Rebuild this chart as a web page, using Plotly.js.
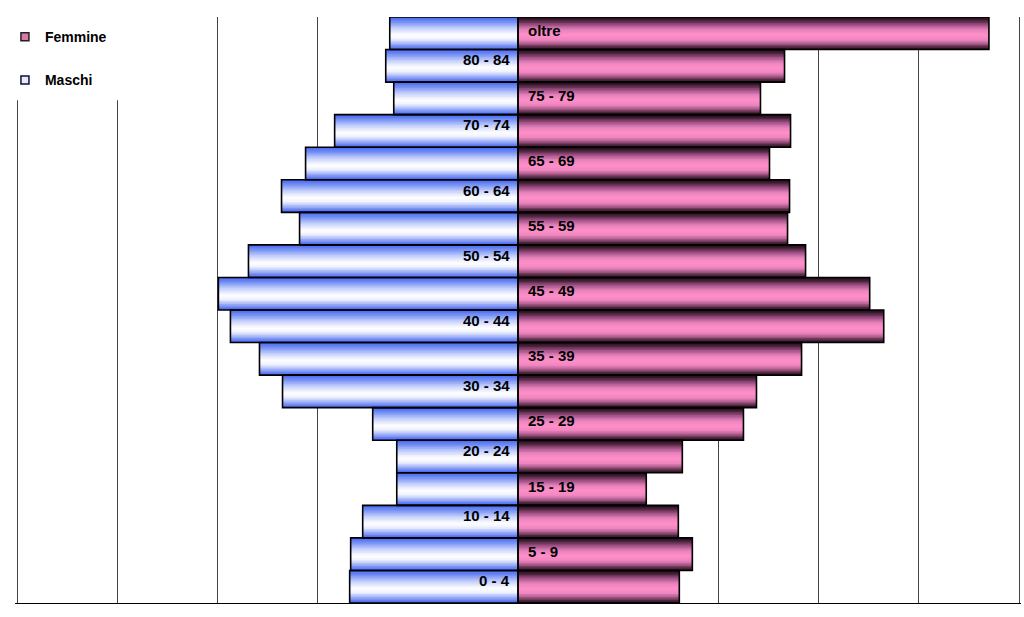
<!DOCTYPE html>
<html>
<head>
<meta charset="utf-8">
<script src="https://cdn.plot.ly/plotly-3.0.1.min.js"></script>
<style>html,body{margin:0;padding:0;background:#fff}#chart{width:1024px;height:617px}</style>
</head>
<body>
<div id="chart"></div>
<script>
// Age classes, bottom to top
const categories = ['0 - 4','5 - 9','10 - 14','15 - 19','20 - 24','25 - 29','30 - 34','35 - 39','40 - 44','45 - 49','50 - 54','55 - 59','60 - 64','65 - 69','70 - 74','75 - 79','80 - 84','oltre'];
// Values in percent of population
const maschi  = [1.68,1.67,1.55,1.21,1.21,1.45,2.35,2.58,2.87,2.99,2.69,2.18,2.36,2.12,1.83,1.24,1.32,1.28];
const femmine = [1.61,1.74,1.60,1.28,1.64,2.25,2.38,2.83,3.65,3.51,2.87,2.69,2.71,2.51,2.72,2.42,2.66,4.70];
const seriesNames = ['Femmine','Maschi'];

// gradient profiles (top -> bottom of each bar)
const maleStops = [[0,'#4566f0'],[0.15,'#7590f4'],[0.35,'#c8d2fb'],[0.55,'#ffffff'],[0.68,'#eef1fe'],[0.82,'#a2b3f8'],[0.93,'#6480f2'],[1,'#3f5fee']];
const femaleStops = [[0,'#1a0a13'],[0.1,'#452036'],[0.25,'#a5538a'],[0.4,'#e883bd'],[0.55,'#ff8fc8'],[0.7,'#f085c0'],[0.82,'#ad5e8d'],[0.92,'#552a43'],[1,'#200e18']];

function hex(c){return [parseInt(c.substr(1,2),16),parseInt(c.substr(3,2),16),parseInt(c.substr(5,2),16)];}
function interp(stops,t){
  for(let i=0;i<stops.length-1;i++){
    const [t0,c0]=stops[i],[t1,c1]=stops[i+1];
    if(t>=t0&&t<=t1){
      const f=(t-t0)/(t1-t0),a=hex(c0),b=hex(c1);
      return 'rgb('+a.map((v,j)=>Math.round(v+(b[j]-v)*f)).join(',')+')';
    }
  }
  return stops[stops.length-1][1];
}

const N = 22;
const traces = [];
const maleX = maschi.map(v=>-v);
function addStripes(xvals, stops){
  for(let k=0;k<N;k++){
    const t=(k+0.5)/N;
    const extra = k<N-1 ? 0.6/N : 0;
    traces.push({
      type:'bar', orientation:'h', x:xvals, y:categories,
      width:1/N+extra, offset:0.5-(k+1)/N-extra,
      marker:{color:interp(stops,t), line:{width:0}},
      showlegend:false, hoverinfo:'skip'
    });
  }
}
addStripes(maleX, maleStops);
addStripes(femmine, femaleStops);
// outlines
[maleX, femmine].forEach(xv=>{
  traces.push({type:'bar', orientation:'h', x:xv, y:categories, width:1, offset:-0.5,
    marker:{color:'rgba(0,0,0,0)', line:{color:'#000', width:1.6}}, showlegend:false, hoverinfo:'skip'});
});
// legend entries
traces.push({type:'scatter', mode:'markers', x:[null], y:[null], name:seriesNames[0], legendgroup:'f',
  marker:{symbol:'square', size:8, color:'#d977a9', line:{color:'#222', width:1.5}}});
traces.push({type:'scatter', mode:'markers', x:[null], y:[null], name:seriesNames[1], legendgroup:'m',
  marker:{symbol:'square', size:8, color:'#e8ebff', line:{color:'#111133', width:1.5}}});

const annotations = categories.map((c,i)=>{
  const left = i%2===0;
  return {x:0, y:c, xref:'x', yref:'y', text:c, showarrow:false,
    xanchor: left?'right':'left', xshift: left?-6:8, yshift: left?6:3,
    font:{family:'Liberation Sans, Arial, sans-serif', size:15, color:'#000', weight:'bold'}};
});

const layout = {
  width:1024, height:617,
  margin:{l:15, r:3, t:17, b:14, autoexpand:false},
  paper_bgcolor:'#fff', plot_bgcolor:'#fff',
  barmode:'overlay',
  showlegend:true,
  legend:{x:-0.010, y:0.993, xanchor:'left', yanchor:'top', bgcolor:'rgba(0,0,0,0)',
    traceorder:'grouped', tracegroupgap:22,
    font:{family:'Liberation Sans, Arial, sans-serif', size:14, color:'#000', weight:'bold'}},
  xaxis:{range:[-5.02,5.02], dtick:1, tick0:0, showgrid:true, gridcolor:'#444', gridwidth:1,
    zeroline:false, showticklabels:false, ticks:'', showline:true, linecolor:'#000', linewidth:1, fixedrange:true},
  yaxis:{type:'category', range:[-0.5,17.5], showgrid:false, zeroline:false, showticklabels:false, ticks:'', showline:false, fixedrange:true},
  shapes:[{type:'rect', xref:'paper', yref:'paper', x0:-0.02, x1:0.15, y0:0.858, y1:1.03,
    fillcolor:'#fff', line:{width:0}, layer:'above'}],
  annotations:annotations
};

Plotly.newPlot('chart', traces, layout, {displayModeBar:false, staticPlot:true});
</script>
</body>
</html>
